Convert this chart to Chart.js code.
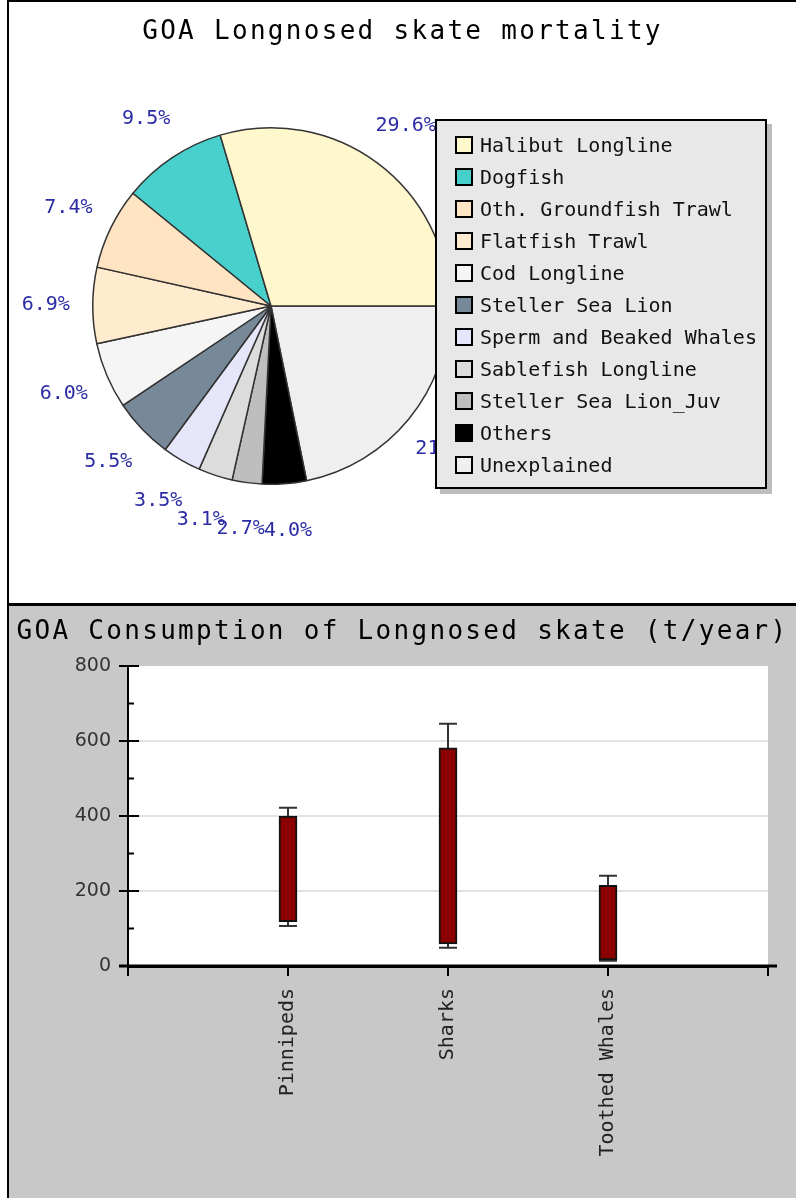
<!DOCTYPE html>
<html>
<head>
<meta charset="utf-8">
<title>GOA Longnosed skate</title>
<script src="https://cdn.jsdelivr.net/npm/chart.js@4.4.0/dist/chart.umd.min.js"></script>
<style>
  html, body { margin: 0; padding: 0; background: #fff; }
  #page { position: relative; width: 796px; height: 1198px; overflow: hidden; background: #fff; }
  .line { position: absolute; background: #000; }
  #bottomBg { position: absolute; left: 9px; top: 606px; width: 787px; height: 592px; background: #c8c8c8; }
  .title { position: absolute; left: 9px; width: 787px; text-align: center; font-family: "DejaVu Sans Mono", monospace;
           font-size: 26px; letter-spacing: 2.3px; line-height: 30px; color: #000; white-space: nowrap; }
  #pieCanvas { position: absolute; left: 9px; top: 2px; }
  #barCanvas { position: absolute; left: 9px; top: 606px; }
  #legend { position: absolute; left: 435px; top: 119px; width: 332px; height: 370px; box-sizing: border-box;
            background: #e8e8e8; border: 2px solid #000; box-shadow: 5px 5px 0 #bdbdbd;
            font-family: "DejaVu Sans Mono", monospace; font-size: 20px; color: #111; }
  .item { position: absolute; left: 18px; height: 32px; line-height: 32px; white-space: nowrap; }
  .sw { position: absolute; left: 0; top: 7px; width: 14px; height: 14px; border: 2px solid #000; }
  .lab { position: absolute; left: 25px; }
</style>
</head>
<body>
<div id="page">
  <div id="bottomBg"></div>
  <canvas id="pieCanvas" width="787" height="601"></canvas>
  <canvas id="barCanvas" width="787" height="592"></canvas>
  <div class="line" style="left:7px;top:0;width:2px;height:1198px"></div>
  <div class="line" style="left:7px;top:0;width:789px;height:2px"></div>
  <div class="line" style="left:7px;top:603px;width:789px;height:3px"></div>
  <div class="title" style="top:15px">GOA Longnosed skate mortality</div>
  <div class="title" style="top:615px">GOA Consumption of Longnosed skate (t/year)</div>
  <div id="legend"></div>
</div>
<script>
// pie: mortality shares (%)
const mortalityLabels = ['Halibut Longline', 'Dogfish', 'Oth. Groundfish Trawl', 'Flatfish Trawl', 'Cod Longline',
    'Steller Sea Lion', 'Sperm and Beaked Whales', 'Sablefish Longline', 'Steller Sea Lion_Juv', 'Others', 'Unexplained'];
const mortalityPct = [29.6, 9.5, 7.4, 6.9, 6.0, 5.5, 3.5, 3.1, 2.7, 4.0, 21.8];
const mortalityColors = ['#fff8cc', '#48d1cc', '#ffe4c4', '#ffebcd', '#f5f5f5', '#778899', '#e6e6fa',
    '#dcdcdc', '#bebebe', '#000000', '#efefef'];

// bars: consumption (t/year)
const categories = ['Pinnipeds', 'Sharks', 'Toothed Whales'];
const barLow = [118, 59, 16];
const barHigh = [400, 582, 215];
const whiskerLow = [107, 49, 14];
const whiskerHigh = [422, 646, 241];

Chart.defaults.animation = false;
Chart.defaults.font.family = '"DejaVu Sans Mono", monospace';

// legend box (html, sits over the pie like the original)
const legend = document.getElementById('legend');
mortalityLabels.forEach((name, i) => {
    const item = document.createElement('div');
    item.className = 'item';
    item.style.top = (8 + i * 32) + 'px';
    item.innerHTML = '<span class="sw" style="background:' + mortalityColors[i] + '"></span><span class="lab">' + name + '</span>';
    legend.appendChild(item);
});

// chart.js goes clockwise, original goes counter-clockwise from 3 o'clock -> reverse
const pieValues = mortalityPct.slice().reverse();
const pieColors = mortalityColors.slice().reverse();
const pieNames = mortalityLabels.slice().reverse();

const pieLabels = {
    id: 'pieLabels',
    afterDatasetsDraw(chart) {
        const ctx = chart.ctx;
        const meta = chart.getDatasetMeta(0);
        ctx.save();
        ctx.font = '20px "DejaVu Sans Mono"';
        ctx.fillStyle = '#2b2ba6';
        ctx.textAlign = 'center';
        ctx.textBaseline = 'middle';
        meta.data.forEach((arc, i) => {
            const p = arc.getProps(['x', 'y', 'startAngle', 'endAngle', 'outerRadius'], true);
            const mid = (p.startAngle + p.endAngle) / 2;
            const r = p.outerRadius + 47;
            ctx.fillText(pieValues[i].toFixed(1) + '%', p.x + Math.cos(mid) * r, p.y + Math.sin(mid) * r);
        });
        ctx.restore();
    }
};

new Chart(document.getElementById('pieCanvas'), {
    type: 'pie',
    data: {
        labels: pieNames,
        datasets: [{
            data: pieValues,
            backgroundColor: pieColors,
            borderColor: '#333',
            borderWidth: 1.5
        }]
    },
    options: {
        responsive: false,
        rotation: 90,
        layout: { padding: { left: 83, top: 125, right: 346, bottom: 118 } },
        plugins: { legend: { display: false }, tooltip: { enabled: false } }
    },
    plugins: [pieLabels]
});

const plotBg = {
    id: 'plotBg',
    beforeDraw(chart) {
        const a = chart.chartArea;
        chart.ctx.save();
        chart.ctx.fillStyle = '#fff';
        chart.ctx.fillRect(a.left, a.top, a.right - a.left, a.bottom - a.top);
        chart.ctx.restore();
    }
};

const whiskers = {
    id: 'whiskers',
    beforeDatasetsDraw(chart) {
        const { ctx, scales: { x, y } } = chart;
        ctx.save();
        ctx.strokeStyle = '#333';
        ctx.lineWidth = 2;
        categories.forEach((c, i) => {
            const px = x.getPixelForValue(i + 1);
            const hi = y.getPixelForValue(whiskerHigh[i]);
            const lo = y.getPixelForValue(whiskerLow[i]);
            ctx.beginPath();
            ctx.moveTo(px, hi); ctx.lineTo(px, lo);
            ctx.moveTo(px - 9, hi); ctx.lineTo(px + 9, hi);
            ctx.moveTo(px - 9, lo); ctx.lineTo(px + 9, lo);
            ctx.stroke();
        });
        ctx.restore();
    }
};

const axisBits = {
    id: 'axisBits',
    afterDraw(chart) {
        const { ctx, chartArea: a, scales: { y } } = chart;
        ctx.save();
        ctx.strokeStyle = '#000';
        ctx.lineWidth = 2;
        ctx.beginPath();
        for (let v = 100; v <= 800; v += 100) {
            const py = y.getPixelForValue(v);
            const len = v % 200 === 0 ? 11 : 6;
            ctx.moveTo(a.left, py);
            ctx.lineTo(a.left + len, py);
        }
        ctx.stroke();
        // x axis runs a little past the plot on both sides
        ctx.lineWidth = 3;
        ctx.beginPath();
        ctx.moveTo(a.left - 9, a.bottom);
        ctx.lineTo(a.right + 9, a.bottom);
        ctx.stroke();
        ctx.restore();
    }
};

new Chart(document.getElementById('barCanvas'), {
    type: 'bar',
    data: {
        labels: ['', ...categories, ''],
        datasets: [{
            data: [null, ...categories.map((c, i) => [barLow[i], barHigh[i]]), null],
            backgroundColor: '#8b0000',
            borderColor: '#111',
            borderWidth: 2,
            borderSkipped: false,
            barThickness: 18
        }]
    },
    options: {
        responsive: false,
        layout: { padding: { left: 0, top: 60, right: 28, bottom: 0 } },
        plugins: { legend: { display: false }, tooltip: { enabled: false } },
        scales: {
            x: {
                type: 'category',
                offset: false,
                grid: { offset: false, drawOnChartArea: false, color: '#000', tickColor: '#000', tickLength: 10, lineWidth: 2 },
                border: { display: true, color: '#000', width: 3 },
                ticks: {
                    autoSkip: false, minRotation: 90, maxRotation: 90, padding: 12, color: '#222',
                    font: { family: '"DejaVu Sans Mono"', size: 20 }
                },
                afterFit(s) {
                    s.height = 232;
                    s.paddingLeft = 0;
                    s.paddingRight = 0;
                }
            },
            y: {
                min: 0,
                max: 800,
                ticks: {
                    stepSize: 100, autoSkip: false, padding: 8, color: '#333',
                    font: { family: '"DejaVu Sans"', size: 19 },
                    callback: (v) => (v % 200 === 0 ? v : '')
                },
                grid: {
                    color: (c) => ([200, 400, 600].includes(c.tick.value) ? '#e2e2e2' : 'rgba(0,0,0,0)'),
                    lineWidth: 2,
                    tickColor: (c) => (c.tick.value % 200 === 0 ? '#000' : 'rgba(0,0,0,0)'),
                    tickLength: 9,
                    tickWidth: 2
                },
                border: { color: '#000', width: 2 },
                afterFit(s) { s.width = 119; }
            }
        }
    },
    plugins: [plotBg, whiskers, axisBits]
});
</script>
</body>
</html>
